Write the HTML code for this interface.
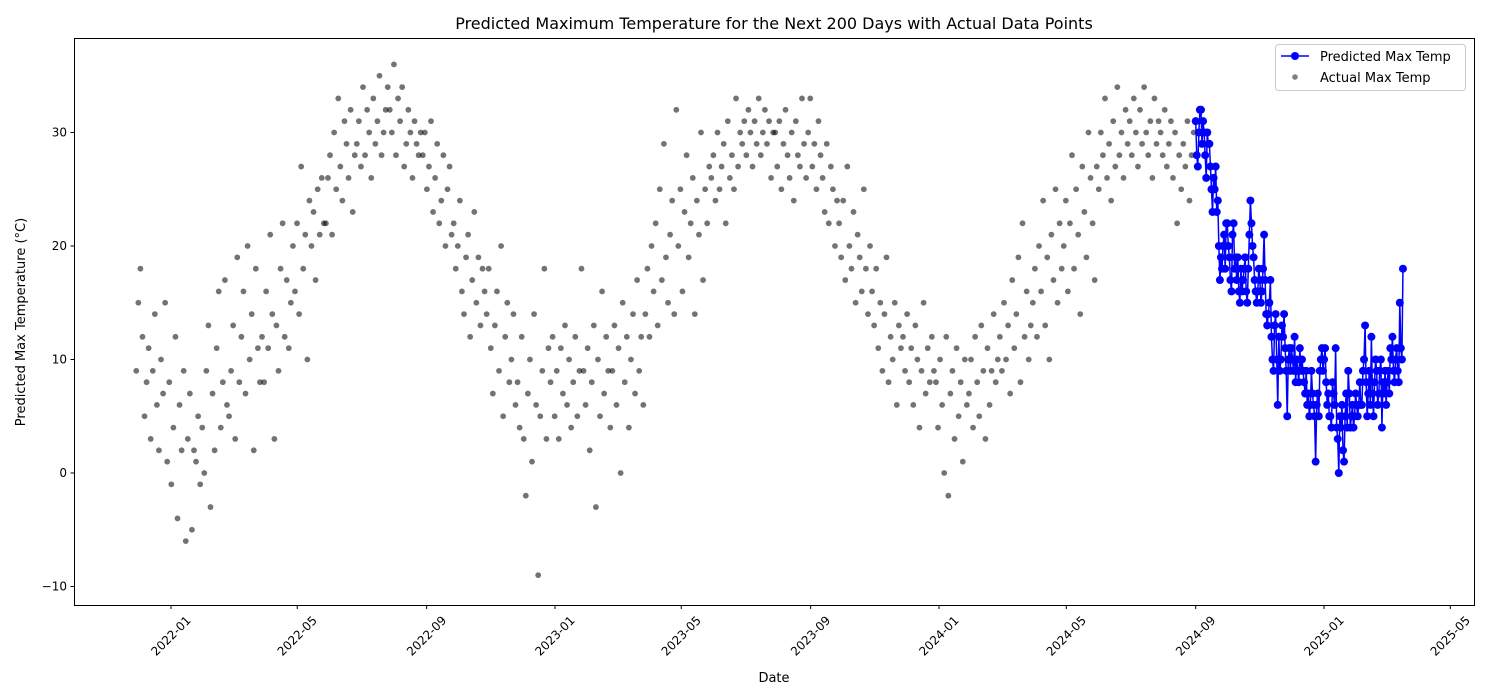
<!DOCTYPE html>
<html><head><meta charset="utf-8">
<style>
html,body{margin:0;padding:0;background:#fff;}
svg{display:block;font-family:"DejaVu Sans","Liberation Sans",sans-serif;}
</style></head>
<body>
<svg id="chart" width="1500" height="700" viewBox="0 0 1500 700" xmlns="http://www.w3.org/2000/svg">
<rect width="1500" height="700" fill="#fff"/>
<text x="774" y="29" font-size="16" text-anchor="middle" fill="#000">Predicted Maximum Temperature for the Next 200 Days with Actual Data Points</text>
<g id="plot"></g>
<text x="774" y="682" font-size="13" text-anchor="middle">Date</text>
<text x="25" y="322" font-size="13" text-anchor="middle" transform="rotate(-90 25 322)">Predicted Max Temperature (°C)</text>
<g>
<rect x="1275.5" y="44.5" width="190" height="46" rx="3" fill="#fff" fill-opacity="0.8" stroke="#ccc"/>
<line x1="1281" y1="56" x2="1309" y2="56" stroke="#0000ff" stroke-width="1.5"/>
<circle cx="1295" cy="56" r="4" fill="#0000ff"/>
<text x="1320" y="61" font-size="13">Predicted Max Temp</text>
<circle cx="1295" cy="77" r="2.8" fill="#000" fill-opacity="0.5"/>
<text x="1320" y="82" font-size="13">Actual Max Temp</text>
</g>
</svg>
<script>
const actualStart = "2021-11-29";
const actualEnd = "2024-08-30";
const actualValues = [
9,15,18,12,5,8,11,3,9,14,6,2,10,7,15,
1,8,-1,4,12,-4,6,2,9,-6,3,7,-5,2,1,5,
-1,4,0,9,13,-3,7,2,11,16,4,8,17,6,
5,9,13,3,19,8,12,16,7,20,10,14,2,18,11,8,
12,8,16,11,21,14,3,13,9,18,22,12,17,11,15,
20,16,22,14,27,18,21,10,24,20,23,17,25,21,26,22,
22,26,28,21,30,25,33,27,24,31,29,26,32,23,28,
29,31,27,34,28,32,30,26,33,29,31,35,28,30,32,34,
32,30,36,28,33,31,34,27,29,32,30,26,31,29,28,30,
28,30,25,27,31,23,26,29,22,24,28,20,25,27,21,
22,18,20,24,16,14,19,21,12,17,23,15,19,13,18,16,
14,18,11,7,13,16,9,20,5,12,15,8,10,14,6,
8,4,12,3,-2,7,10,1,14,6,-9,5,9,18,3,11,
8,12,5,9,3,11,7,13,6,10,4,8,12,5,9,18,
9,6,11,2,8,13,-3,10,5,16,7,12,9,4,
9,13,6,11,0,15,8,12,4,10,14,7,17,9,12,6,
14,18,12,20,16,22,13,25,17,29,19,15,21,24,14,32,
20,25,16,23,28,19,22,26,14,24,21,30,17,25,22,27,
26,28,24,30,25,27,29,22,31,26,28,25,33,27,30,
29,31,28,32,30,27,31,29,33,28,30,32,29,31,26,30,
30,27,31,25,29,32,28,26,30,24,31,28,27,33,29,26,
30,33,27,29,25,31,28,26,23,29,22,27,25,20,24,
22,19,24,17,27,20,18,23,15,21,19,16,25,18,14,20,
16,13,18,11,15,9,14,19,8,12,10,15,6,13,11,
12,9,14,8,11,6,13,10,4,9,15,7,11,8,12,9,
8,4,10,6,0,12,-2,7,9,3,11,5,8,1,10,6,
7,10,4,12,8,5,13,9,3,11,6,9,14,8,10,
12,9,15,10,13,7,17,11,14,19,8,22,12,16,10,13,
15,18,12,20,16,24,13,19,10,21,17,25,15,22,18,
20,24,16,22,28,18,25,21,14,27,23,19,30,26,22,17,
27,25,30,28,33,26,29,24,31,27,34,28,30,26,32,
29,31,28,33,30,27,32,29,34,30,28,31,26,33,29,31,
30,28,32,27,29,31,26,30,22,28,25,29,27,31,24,28,30
];
const predStart = "2024-09-01";
const predValues = [
31,28,27,30,32,32,29,31,30,28,26,30,29,29,27,25,23,26,25,27,23,24,20,17,19,18,20,21,18,22,
22,20,19,17,16,21,22,18,19,17,19,16,15,18,16,17,18,19,16,15,18,21,24,22,20,19,17,16,15,16,18,
17,15,16,18,21,17,14,13,14,15,17,12,10,9,13,14,10,6,12,9,10,13,12,14,11,9,5,10,11,9,
11,10,9,12,8,10,9,8,11,9,10,9,8,7,9,6,7,5,6,9,7,6,5,1,6,7,5,9,10,11,9,10,
11,8,6,7,5,5,4,8,7,6,11,4,3,0,5,4,6,2,1,5,7,4,9,7,4,5,6,4,5,7,6,
5,6,8,6,6,9,10,13,8,5,7,9,6,12,7,5,8,10,9,6,7,9,10,4,8,7,9,6,
8,9,7,11,10,12,9,8,10,11,9,8,15,11,10,18
];
const xTickLabels = ["2022-01","2022-05","2022-09","2023-01","2023-05","2023-09","2024-01","2024-05","2024-09","2025-01","2025-05"];
const yTickLabels = [-10,0,10,20,30];

const NS="http://www.w3.org/2000/svg";
const L=74,R=1474,T=38,B=605;
const DAY=86400000, ORIGIN=Date.UTC(2022,0,1);
function dayOf(s){const p=s.split("-").map(Number);return (Date.UTC(p[0],p[1]-1,p[2]||1)-ORIGIN)/DAY;}
function xScale(d){return 171+d*384/365;}
function yScale(v){return 473-v*11.35;}
function mk(tag,attrs,parent){const e=document.createElementNS(NS,tag);for(const k in attrs)e.setAttribute(k,attrs[k]);parent.appendChild(e);return e;}
const plot=document.getElementById("plot");

const a0=dayOf(actualStart),a1=dayOf(actualEnd),step=(a1-a0)/(actualValues.length-1);
actualValues.forEach((v,i)=>{
  const c=mk("circle",{cx:xScale(a0+i*step),cy:yScale(v),r:2.9,fill:"#000","fill-opacity":0.55},plot);
  
  
});
const p0=dayOf(predStart);
const pts=predValues.map((v,i)=>xScale(p0+i)+","+yScale(v)).join(" ");
const pl=mk("polyline",{points:pts,fill:"none",stroke:"#0000ff","stroke-width":1.5},plot);


predValues.forEach((v,i)=>{
  const c=mk("circle",{cx:xScale(p0+i),cy:yScale(v),r:4,fill:"#0000ff"},plot);
  
  
});
const fr=mk("rect",{x:L+0.5,y:T+0.5,width:R-L,height:B-T,fill:"none",stroke:"#000","stroke-width":1},plot);


xTickLabels.forEach(lab=>{
  const x=xScale(dayOf(lab));
  const t=mk("line",{x1:x,y1:B+0.5,x2:x,y2:B+4,stroke:"#000"},plot);
  
  
  const cy=B+31;
  const tx=mk("text",{x:x,y:cy+4,"font-size":12,"text-anchor":"middle",transform:`rotate(-45 ${x} ${cy})`},plot);
  tx.textContent=lab;
  
  
});
yTickLabels.forEach(v=>{
  const y=yScale(v);
  const t=mk("line",{x1:L-3.5,y1:y,x2:L+0.5,y2:y,stroke:"#000"},plot);
  
  
  const tx=mk("text",{x:L-7,y:y+4,"font-size":12,"text-anchor":"end"},plot);
  tx.textContent=v<0?"\u2212"+(-v):String(v);
  
  
});
</script>
</body></html>
